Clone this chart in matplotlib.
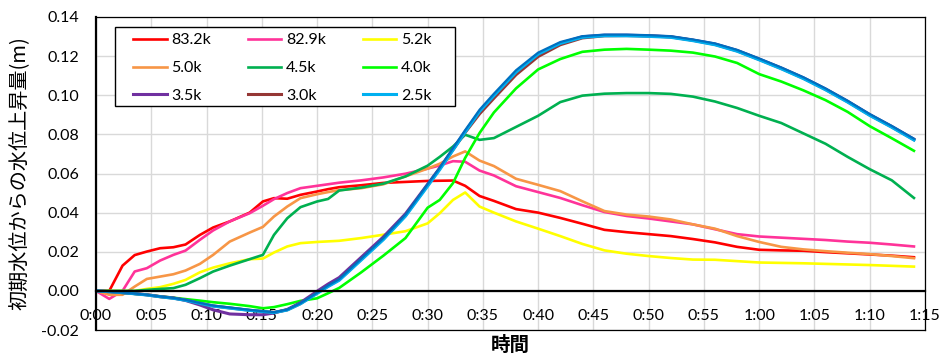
import matplotlib
matplotlib.use('Agg')
import matplotlib.pyplot as plt
from matplotlib.patches import Rectangle

plt.rcParams['font.family'] = ['Lato', 'Noto Sans CJK JP', 'DejaVu Sans']

# elapsed time (minutes)
minutes = [0, 1.2, 2.4, 3.5, 4.6, 5.8, 7.0, 8.1, 9.4, 10.6, 12.1, 13.9,
           15.1, 16.1, 17.3, 18.5, 20, 21, 22, 24, 26, 28, 30,
           31.1, 32.3, 33.4, 34.7, 36,
           38, 40, 42, 44, 46, 48, 50, 52, 54, 56, 58, 60, 62, 64, 66, 68, 70, 72, 74]

s_832 = [0, 0, 0.0129, 0.0183, 0.0201, 0.0218, 0.0223, 0.0237, 0.0286, 0.0324, 0.0355, 0.040,
         0.0457, 0.0474, 0.0471, 0.0491, 0.0508, 0.052, 0.053, 0.054, 0.0552, 0.0557, 0.0562,
         0.0563, 0.0564, 0.0537, 0.0485, 0.046,
         0.0418, 0.040, 0.0373, 0.0343, 0.0312, 0.030, 0.029, 0.028, 0.0265, 0.0248, 0.0225, 0.021,
         0.0207, 0.0205, 0.0198, 0.0192, 0.0186, 0.018, 0.0172]
s_829 = [0, -0.0041, 0.0, 0.0099, 0.0116, 0.0155, 0.0184, 0.0206, 0.0261, 0.0309, 0.0355, 0.0397,
         0.0435, 0.0469, 0.050, 0.0525, 0.0537, 0.0545, 0.0553, 0.0565, 0.058, 0.0599, 0.0625,
         0.0641, 0.0663, 0.0660, 0.0615, 0.0590,
         0.0535, 0.0505, 0.0475, 0.0438, 0.0403, 0.0383, 0.037, 0.0355, 0.034, 0.0315, 0.029, 0.0278,
         0.0272, 0.0266, 0.026, 0.0252, 0.0246, 0.0237, 0.0227]
s_52 = [0, 0, 0, 0, 0.001, 0.0019, 0.0036, 0.0056, 0.0095, 0.0119, 0.0141, 0.0162,
        0.0165, 0.0196, 0.0227, 0.0244, 0.025, 0.0253, 0.0256, 0.027, 0.0287, 0.0305, 0.0345,
        0.0397, 0.0465, 0.0503, 0.0431, 0.040,
        0.0355, 0.0318, 0.028, 0.024, 0.0207, 0.019, 0.0178, 0.0168, 0.016, 0.0159, 0.0152, 0.0145,
        0.0143, 0.0141, 0.0138, 0.0135, 0.0132, 0.0128, 0.0124]
s_50 = [0, -0.002, -0.002, 0.0022, 0.0061, 0.0073, 0.0085, 0.0104, 0.0138, 0.0184, 0.0252, 0.0298,
        0.0327, 0.038, 0.0431, 0.0474, 0.0494, 0.0505, 0.0515, 0.0525, 0.0545, 0.0585, 0.0625,
        0.065, 0.0687, 0.0713, 0.0666, 0.0638,
        0.0573, 0.0542, 0.051, 0.0458, 0.0408, 0.039, 0.038, 0.0365, 0.034, 0.0318, 0.028, 0.025,
        0.0225, 0.0212, 0.0203, 0.0195, 0.0188, 0.0178, 0.0167]
s_45 = [0, 0, 0, 0, 0.0005, 0.001, 0.0014, 0.0031, 0.0065, 0.0099, 0.0129, 0.0162,
        0.0184, 0.0286, 0.0371, 0.0428, 0.0457, 0.047, 0.0513, 0.0528, 0.0548, 0.0585, 0.064,
        0.0685, 0.0738, 0.0798, 0.0772, 0.0781,
        0.0838, 0.0895, 0.0965, 0.0998, 0.1008, 0.1011, 0.1011, 0.1007, 0.0993, 0.0968, 0.0935, 0.0895,
        0.0858, 0.0805, 0.0752, 0.0685, 0.0622, 0.0565, 0.0475]
s_40 = [0, -0.0005, -0.001, -0.0015, -0.002, -0.0028, -0.0035, -0.0042, -0.005, -0.0058, -0.0066, -0.0078,
        -0.0089, -0.0083, -0.0068, -0.0051, -0.0038, -0.0012, 0.0015, 0.0095, 0.018, 0.027, 0.0425,
        0.0465, 0.0551, 0.068, 0.0807, 0.0912,
        0.1035, 0.1132, 0.1185, 0.1222, 0.1233, 0.1237, 0.1233, 0.1228, 0.1218, 0.1198, 0.1165, 0.1108,
        0.107, 0.1025, 0.0975, 0.0915, 0.0842, 0.078, 0.0716]
s_35 = [0, -0.0004, -0.0009, -0.0014, -0.002, -0.0029, -0.0036, -0.0049, -0.0072, -0.0097, -0.0118, -0.0122,
        -0.0122, -0.0113, -0.0095, -0.006, -0.0002, 0.0035, 0.0068, 0.0172, 0.0276, 0.0394, 0.0545,
        0.0628, 0.0725, 0.0815, 0.0915, 0.0995,
        0.1115, 0.1208, 0.1266, 0.1299, 0.1307, 0.1307, 0.1304, 0.1299, 0.1282, 0.1262, 0.1229, 0.1185,
        0.1139, 0.1089, 0.1032, 0.0969, 0.0901, 0.084, 0.0775]
s_30 = [0, -0.0004, -0.0009, -0.0014, -0.002, -0.003, -0.0037, -0.0047, -0.0063, -0.0077, -0.0087, -0.0099,
        -0.0105, -0.011, -0.0097, -0.0065, -0.0011, 0.0025, 0.0057, 0.0162, 0.0266, 0.0386, 0.054,
        0.0625, 0.0722, 0.081, 0.0905, 0.0985,
        0.1105, 0.1198, 0.1258, 0.1293, 0.1304, 0.1305, 0.1303, 0.1298, 0.1281, 0.126, 0.1227, 0.1183,
        0.1137, 0.1087, 0.103, 0.0967, 0.0899, 0.0838, 0.0773]
s_25 = [0, -0.0004, -0.0009, -0.0015, -0.0021, -0.003, -0.0038, -0.0048, -0.0064, -0.0078, -0.0088, -0.01,
        -0.0106, -0.0111, -0.0098, -0.0066, -0.0013, 0.0022, 0.0054, 0.0158, 0.0262, 0.0382, 0.0535,
        0.062, 0.072, 0.0812, 0.0917, 0.0998,
        0.1118, 0.121, 0.1265, 0.1296, 0.1304, 0.1304, 0.1301, 0.1296, 0.1279, 0.1258, 0.1225, 0.1181,
        0.1135, 0.1085, 0.1028, 0.0965, 0.0897, 0.0836, 0.0771]
s_dark = [0, -0.0004, -0.0009, -0.0014, -0.002, -0.0029, -0.0036, -0.0046, -0.0062, -0.0075, -0.0085, -0.0097,
          -0.0104, -0.0109, -0.0096, -0.0063, -0.0009, 0.0028, 0.006, 0.0165, 0.027, 0.039, 0.0545,
          0.063, 0.073, 0.0822, 0.0926, 0.1008,
          0.1128, 0.1218, 0.1272, 0.1302, 0.131, 0.131, 0.1307, 0.1302, 0.1285, 0.1265, 0.1232, 0.1188,
          0.1142, 0.1092, 0.1035, 0.0972, 0.0904, 0.0843, 0.0778]

labels = ['83.2k', '82.9k', '5.2k', '5.0k', '4.5k', '4.0k', '3.5k', '3.0k', '2.5k']
series = [s_832, s_829, s_52, s_50, s_45, s_40, s_35, s_30, s_25]
colors = ['#FF0000', '#FF3399', '#FFFF00', '#F79646', '#00B050', '#00FF00',
          '#7030A0', '#953735', '#00B0F0']

xticks = [0, 5, 10, 15, 20, 25, 30, 35, 40, 45, 50, 55, 60, 65, 70, 75]
xtick_labels = ['0:00', '0:05', '0:10', '0:15', '0:20', '0:25', '0:30', '0:35',
                '0:40', '0:45', '0:50', '0:55', '1:00', '1:05', '1:10', '1:15']
yticks = [-0.02, 0.00, 0.02, 0.04, 0.06, 0.08, 0.10, 0.12, 0.14]

fig = plt.figure(figsize=(9.46, 3.59), dpi=100)
ax = fig.add_axes([96/946, 1-330/359, 829/946, 313/359])

handles = {}
for lab, s, c in zip(labels, series, colors):
    lw = 2.2 if lab in ('2.5k', '3.0k', '3.5k') else 1.9
    h, = ax.plot(minutes, s, color=c, lw=lw, label=lab, solid_joinstyle='round')
    handles[lab] = h
ax.plot(minutes, s_dark, color='#0070C0', lw=1.6, label='_nolegend_')

ax.set_xlim(0, 75)
ax.set_ylim(-0.02, 0.14)
ax.set_xticks(xticks)
ax.set_xticklabels(xtick_labels)
ax.set_yticks(yticks)
ax.set_yticklabels([f'{v:.2f}' for v in yticks])
ax.tick_params(axis='both', length=0, labelsize=11.5, colors='black')
ax.tick_params(axis='x', pad=13)
ax.tick_params(axis='y', pad=12)

ax.grid(True, color='#D9D9D9', lw=1.0)
ax.set_axisbelow(True)

ax.spines['bottom'].set_position(('data', 0))
ax.spines['bottom'].set_linewidth(1.6)
ax.spines['left'].set_linewidth(1.6)
ax.spines['top'].set_linewidth(0.9)
ax.spines['right'].set_linewidth(0.9)
ax.plot([0, 1], [0, 0], transform=ax.transAxes, color='black', lw=0.9, clip_on=False)

ax.set_ylabel('初期水位からの水位上昇量(m)', fontsize=14.5, family=['Noto Sans CJK JP', 'DejaVu Sans'])
ax.yaxis.set_label_coords(-0.0784, 0.5)
ax.set_xlabel('時間', fontsize=14, fontweight='bold', family=['Noto Sans CJK JP', 'DejaVu Sans'])
ax.xaxis.set_label_coords(0.5, -0.02)
ax.xaxis.label.set_va('top')

# legend box
ax.add_patch(Rectangle((19/829, 1-89/313), 340/829, 79/313, transform=ax.transAxes,
                       facecolor='white', edgecolor='black', lw=1.0, zorder=4))
order = ['83.2k', '5.0k', '3.5k', '82.9k', '4.5k', '3.0k', '5.2k', '4.0k', '2.5k']
leg = ax.legend([handles[k] for k in order], order, ncol=3, loc='upper left',
                bbox_to_anchor=(37/829, 1-16/313), borderaxespad=0,
                fontsize=11.5, frameon=False,
                handlelength=2.1, handletextpad=0.3, columnspacing=2.3,
                labelspacing=0.86, borderpad=0)
leg.set_zorder(5)

fig.savefig('out.png', dpi=100)
